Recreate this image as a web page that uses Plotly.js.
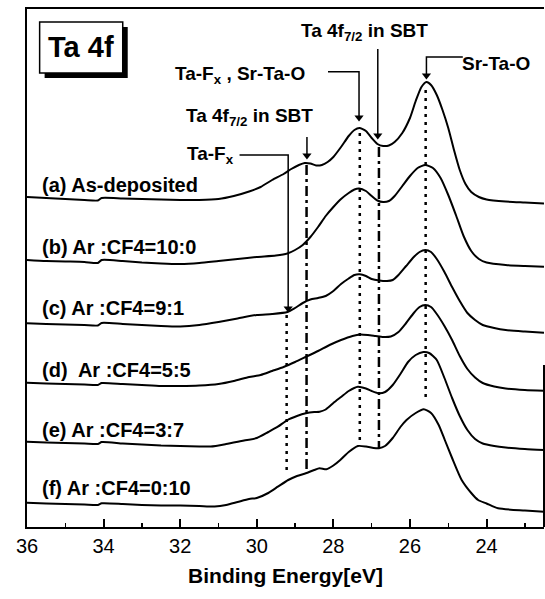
<!DOCTYPE html>
<html>
<head>
<meta charset="utf-8">
<script src="https://cdn.plot.ly/plotly-3.0.1.min.js"></script>
<style>html,body{margin:0;padding:0;background:#fff;}#chart{width:545px;height:599px;}</style>
</head>
<body>
<div id="chart"></div>
<script>
// ---- Data (binding energy in eV, intensity in arbitrary units, stacked) ----
const seriesNames = ['(a) As-deposited', '(b) Ar :CF4=10:0', '(c) Ar :CF4=9:1', '(d)\u00a0 Ar :CF4=5:5', '(e) Ar :CF4=3:7', '(f) Ar :CF4=0:10'];

const E_a = [36,35.5,35,34.5,34.15,34.05,33.5,33,32.5,32,31.5,31,30.6,30.2,29.9,29.6,29.3,29.1,28.9,28.75,28.6,28.45,28.3,28.15,28.0,27.8,27.6,27.45,27.32,27.15,27.0,26.85,26.7,26.55,26.4,26.2,26.0,25.85,25.7,25.57,25.45,25.3,25.15,25.0,24.85,24.7,24.55,24.4,24.2,24.0,23.5,23.0,22.5];
const I_a = [3.30,3.29,3.28,3.27,3.265,3.29,3.285,3.28,3.275,3.27,3.27,3.28,3.31,3.355,3.40,3.47,3.53,3.58,3.62,3.64,3.635,3.615,3.62,3.65,3.70,3.80,3.91,3.97,3.99,3.96,3.89,3.83,3.81,3.815,3.85,3.94,4.09,4.26,4.40,4.45,4.42,4.32,4.17,3.99,3.77,3.57,3.43,3.35,3.30,3.275,3.255,3.245,3.235];

const E_b = [36,35.5,35,34.5,34.15,34.05,33.5,33,32.5,32,31.5,31,30.5,30,29.5,29.2,29.0,28.8,28.6,28.4,28.2,28.0,27.8,27.6,27.45,27.33,27.15,27.0,26.85,26.7,26.55,26.4,26.2,26.0,25.8,25.6,25.4,25.2,25.0,24.8,24.6,24.4,24.2,24.0,23.5,23.0,22.5];
const I_b = [2.67,2.66,2.655,2.65,2.64,2.67,2.66,2.645,2.635,2.63,2.64,2.66,2.68,2.70,2.715,2.735,2.77,2.82,2.90,3.00,3.11,3.20,3.28,3.34,3.375,3.385,3.36,3.31,3.265,3.25,3.26,3.31,3.41,3.51,3.59,3.62,3.59,3.49,3.32,3.12,2.91,2.76,2.68,2.645,2.62,2.61,2.603];

const E_c = [36,35.5,35,34.5,34.15,34.05,33.5,33,32.5,32,31.5,31,30.5,30,29.6,29.2,29.0,28.8,28.6,28.4,28.2,28.0,27.8,27.6,27.45,27.31,27.15,27.0,26.8,26.6,26.45,26.3,26.1,25.9,25.75,25.6,25.45,25.3,25.1,24.9,24.7,24.5,24.3,24.1,23.8,23.5,23.0,22.5];
const I_c = [2.037,2.03,2.025,2.02,2.015,2.04,2.03,2.02,2.01,2.005,2.02,2.05,2.085,2.12,2.13,2.15,2.19,2.24,2.275,2.29,2.31,2.36,2.43,2.485,2.52,2.527,2.51,2.48,2.465,2.46,2.47,2.52,2.61,2.70,2.75,2.77,2.75,2.68,2.55,2.40,2.26,2.14,2.07,2.02,1.99,1.97,1.955,1.943];

const E_d = [36,35.5,35,34.5,34.15,34.05,33.5,33,32.5,32,31.5,31,30.6,30.2,29.9,29.6,29.3,29.0,28.7,28.4,28.1,27.8,27.5,27.3,27.1,26.9,26.7,26.5,26.3,26.1,25.9,25.75,25.6,25.45,25.3,25.1,24.9,24.7,24.5,24.3,24.1,23.8,23.5,23.0,22.5];
const I_d = [1.443,1.435,1.43,1.425,1.42,1.44,1.43,1.42,1.41,1.41,1.415,1.43,1.46,1.50,1.52,1.56,1.60,1.65,1.705,1.76,1.82,1.87,1.91,1.925,1.92,1.91,1.90,1.905,1.95,2.04,2.14,2.20,2.22,2.20,2.13,2.01,1.87,1.71,1.58,1.495,1.44,1.405,1.385,1.37,1.363];

const E_e = [36,35.5,35,34.5,34.15,34.05,33.5,33,32.5,32,31.5,31.2,30.8,30.4,30.0,29.7,29.45,29.2,28.95,28.72,28.5,28.36,28.2,28.0,27.8,27.6,27.36,27.15,27.0,26.81,26.65,26.45,26.25,26.05,25.85,25.65,25.5,25.3,25.1,24.9,24.7,24.5,24.3,24.1,23.8,23.5,23.0,22.5];
const I_e = [0.853,0.845,0.84,0.835,0.83,0.85,0.835,0.825,0.815,0.81,0.805,0.805,0.83,0.86,0.89,0.95,1.003,1.07,1.11,1.137,1.15,1.153,1.175,1.24,1.30,1.36,1.403,1.385,1.36,1.337,1.35,1.42,1.53,1.65,1.72,1.75,1.74,1.67,1.49,1.29,1.11,0.97,0.88,0.835,0.81,0.795,0.78,0.77];

const E_f = [36,35.5,35,34.5,34.15,34.05,33.5,33,32.5,32,31.5,31.1,30.8,30.5,30.2,30.0,29.7,29.45,29.18,28.95,28.72,28.5,28.36,28.18,28.0,27.82,27.6,27.36,27.15,26.95,26.81,26.65,26.45,26.25,26.09,25.85,25.64,25.45,25.25,25.09,24.9,24.65,24.4,24.22,24.0,23.7,23.0,22.5];
const I_f = [0.243,0.235,0.23,0.225,0.22,0.237,0.23,0.22,0.215,0.215,0.21,0.205,0.22,0.25,0.28,0.29,0.34,0.403,0.47,0.51,0.537,0.57,0.587,0.577,0.615,0.67,0.75,0.81,0.805,0.79,0.787,0.81,0.89,1.00,1.07,1.14,1.177,1.14,1.02,0.87,0.69,0.47,0.34,0.27,0.235,0.187,0.165,0.153];

// series label anchor (energy, intensity)
const labelE = [35.67,35.67,35.67,35.67,35.67,35.67];
const labelI = [3.42,2.80,2.19,1.57,0.97,0.39];

// reference peak positions (vertical guide lines)
const refE      = [25.59, 27.31, 26.81, 28.70, 29.22];
const refTop    = [4.37, 3.94, 3.80, 3.62, 2.12];
const refBottom = [1.25, 0.82, 0.79, 0.54, 0.52];
const refKind   = ['dot','dot','dashdot','dashdot','dot'];

// peak assignment labels
const peakText = ['Ta 4f<sub>7/2</sub> in SBT', 'Ta-F<sub>x</sub> , Sr-Ta-O', 'Ta 4f<sub>7/2</sub> in SBT', 'Ta-F<sub>x</sub>', 'Sr-Ta-O'];
const peakTextE = [27.18, 28.70, 28.48, 30.55, 24.70];
const peakTextI = [4.95, 4.52, 4.10, 3.72, 4.637];
const peakAnchor = ['center','right','right','right','left'];
// arrows: elbow start -> vertical drop at arrowE from arrowTail to arrowTip
const arrowE     = [26.84, 27.33, 28.69, 29.18, 25.57];
const arrowTail  = [4.78, 4.553, 3.90, 3.72, 4.70];
const arrowTip   = [3.87, 4.05, 3.67, 2.14, 4.47];
const elbowFromE = [null, 28.14, null, 30.45, 24.62];

const xTickVals = [36,34,32,30,28,26,24];
const xTickText = ['36','34','32','30','28','26','24'];

// ---- build ----
const FONT = 'Arial, "Liberation Sans", Helvetica, sans-serif';
const Es = [E_a,E_b,E_c,E_d,E_e,E_f];
const Is = [I_a,I_b,I_c,I_d,I_e,I_f];
const traces = [];
for (let k=0;k<6;k++){
  traces.push({x:Es[k], y:Is[k], mode:'lines', type:'scatter', name:seriesNames[k],
    line:{color:'#000', width:2, shape:'spline', smoothing:0.6}, hoverinfo:'skip', showlegend:false});
}
const dashMap = {dot:'3px,5px', dashdot:'10px,4px,3px,4px'};
for (let k=0;k<refE.length;k++){
  traces.push({x:[refE[k],refE[k]], y:[refTop[k],refBottom[k]], mode:'lines', type:'scatter',
    line:{color:'#000', width:2.5, dash:dashMap[refKind[k]]}, hoverinfo:'skip', showlegend:false});
}
// arrow shafts (with optional horizontal elbow)
const headOffset = 0.045;
for (let k=0;k<arrowE.length;k++){
  const xs = [], ys = [];
  if (elbowFromE[k] !== null){ xs.push(elbowFromE[k]); ys.push(arrowTail[k]); }
  xs.push(arrowE[k], arrowE[k]); ys.push(arrowTail[k], arrowTip[k] + headOffset);
  traces.push({x:xs, y:ys, mode:'lines', type:'scatter', line:{color:'#000', width:1.5},
    hoverinfo:'skip', showlegend:false});
}
// arrow heads
traces.push({x:arrowE, y:arrowTip.map(v => v + headOffset), mode:'markers', type:'scatter',
  marker:{symbol:'triangle-down', size:8, color:'#000', line:{width:0}}, hoverinfo:'skip', showlegend:false});

const annotations = [];
for (let k=0;k<6;k++){
  annotations.push({x:labelE[k], y:labelI[k], xref:'x', yref:'y', text:'<b>'+seriesNames[k]+'</b>',
    showarrow:false, xanchor:'left', yanchor:'middle', font:{family:FONT, size:20, color:'#000'}});
}
for (let k=0;k<peakText.length;k++){
  annotations.push({x:peakTextE[k], y:peakTextI[k], xref:'x', yref:'y', text:'<b>'+peakText[k]+'</b>',
    showarrow:false, xanchor:peakAnchor[k], yanchor:'middle', font:{family:FONT, size:19, color:'#000'}});
}
// panel title box
annotations.push({x:34.58, y:4.80, xref:'x', yref:'y', text:'<b>Ta 4f</b>', showarrow:false,
  xanchor:'center', yanchor:'middle', font:{family:FONT, size:29, color:'#000'}});

const shapes = [
  {type:'rect', xref:'x', yref:'y', x0:35.54, x1:33.37, y0:5.00, y1:4.49, fillcolor:'#000', line:{width:0}},
  {type:'rect', xref:'x', yref:'y', x0:35.67, x1:33.50, y0:5.05, y1:4.54, fillcolor:'#fff', line:{color:'#000', width:1.5}},
  {type:'line', xref:'paper', yref:'y', x0:1, x1:1, y0:0, y1:1.62, line:{color:'#000', width:2}}
];

const layout = {
  width:545, height:599,
  margin:{l:27, r:1, t:9, b:72, pad:0},
  paper_bgcolor:'#fff', plot_bgcolor:'#fff',
  showlegend:false,
  xaxis:{range:[36,22.5], showline:true, linewidth:2, linecolor:'#000', mirror:true,
    ticks:'inside', ticklen:8, tickwidth:2, tickcolor:'#000',
    tickmode:'array', tickvals:xTickVals, ticktext:xTickText,
    minor:{dtick:1, tick0:0, ticks:'inside', ticklen:4, tickwidth:1.5, tickcolor:'#000', showgrid:false},
    tickfont:{family:FONT, size:20, color:'#000'}, showgrid:false, zeroline:false,
    title:{text:'<b>Binding Energy[eV]</b>', font:{family:FONT, size:21, color:'#000'}, standoff:12}},
  yaxis:{range:[0,5.18], showline:true, linewidth:2, linecolor:'#000', ticks:'', showticklabels:false,
    showgrid:false, zeroline:false},
  annotations:annotations, shapes:shapes
};
Plotly.newPlot('chart', traces, layout, {staticPlot:true, displayModeBar:false});
</script>
</body>
</html>
